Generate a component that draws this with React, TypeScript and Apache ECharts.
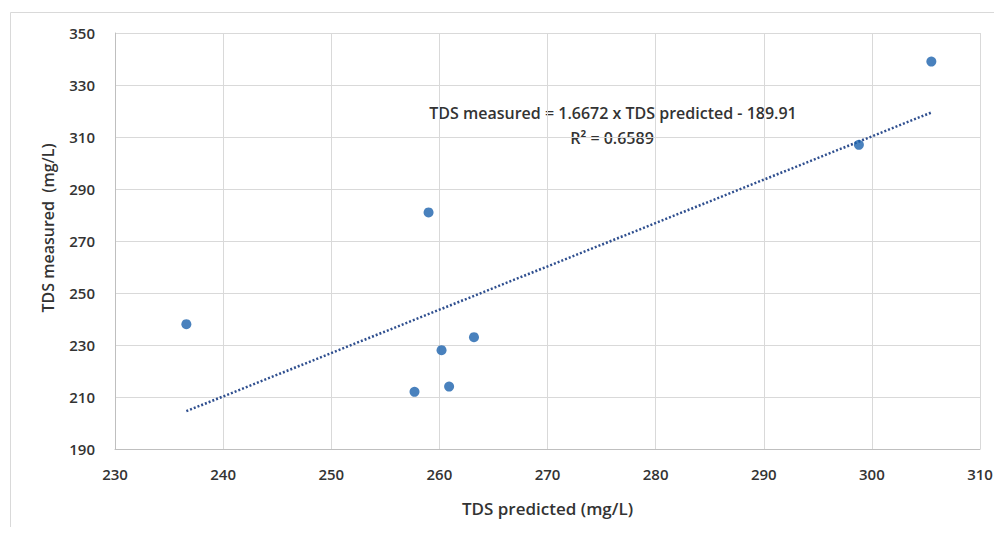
import React, { useEffect, useRef } from "react";
import * as echarts from "echarts";

const predicted = [236.6, 257.7, 260.2, 260.9, 263.2, 259.0, 298.8, 305.5];
const measured = [238, 212, 228, 214, 233, 281, 307, 339];
const slope = 1.6672;
const intercept = -189.91;
const trendX = [236.6, 305.5];
const equationText = "TDS measured = 1.6672 x TDS predicted - 189.91";
const r2Text = "R² = 0.6589";
const xTitle = "TDS predicted (mg/L)";
const yTitle = "TDS measured  (mg/L)";

export default function App() {
  const ref = useRef<HTMLDivElement>(null);
  useEffect(() => {
    if (!ref.current) return;
    const chart = echarts.init(ref.current, undefined, { renderer: "svg" });
    const font = "'Open Sans', 'Noto Sans', sans-serif";
    const labelStyle = { color: "#333333", fontSize: 15, fontFamily: font, fontWeight: 600 as any };
    chart.setOption({
      animation: false,
      backgroundColor: "#fff",
      grid: { left: 115, right: 22, top: 33, bottom: 86, containLabel: false },
      xAxis: {
        type: "value",
        min: 230,
        max: 310,
        interval: 10,
        name: xTitle,
        nameLocation: "middle",
        nameGap: 51,
        nameTextStyle: { ...labelStyle, fontSize: 17 },
        axisLine: { show: true, lineStyle: { color: "#bfbfbf", width: 1 } },
        axisTick: { show: false },
        axisLabel: { ...labelStyle, margin: 17 },
        splitLine: { show: true, lineStyle: { color: "#d9d9d9", width: 1 } },
      },
      yAxis: {
        type: "value",
        min: 190,
        max: 350,
        interval: 20,
        axisLine: { show: true, lineStyle: { color: "#bfbfbf", width: 1 } },
        axisTick: { show: false },
        axisLabel: { ...labelStyle, margin: 20 },
        splitLine: { show: true, lineStyle: { color: "#d9d9d9", width: 1 } },
      },
      graphic: [
        {
          type: "rect",
          shape: { x: 10.5, y: 12.5, width: 985, height: 518 },
          style: { fill: "none", stroke: "#d9d9d9", lineWidth: 1 },
          silent: true,
          z: -10,
        },
        {
          type: "text",
          x: 48,
          y: 228,
          rotation: Math.PI / 2,
          style: {
            text: yTitle,
            fill: "#333333",
            font: `600 16px ${font}`,
            textAlign: "center",
            textVerticalAlign: "middle",
          },
        },
        {
          type: "text",
          x: 613,
          y: 113,
          style: {
            text: equationText,
            fill: "#333333",
            font: `600 16px ${font}`,
            textAlign: "center",
            textVerticalAlign: "middle",
          },
        },
        {
          type: "text",
          x: 612,
          y: 138,
          style: {
            text: r2Text,
            fill: "#333333",
            font: `600 16px ${font}`,
            textAlign: "center",
            textVerticalAlign: "middle",
          },
        },
      ],
      series: [
        {
          type: "line",
          data: trendX.map((x) => [x, slope * x + intercept]),
          symbol: "none",
          lineStyle: { color: "#2F4F8F", width: 2.5, type: [2, 2] },
          z: 2,
        },
        {
          type: "scatter",
          data: predicted.map((x, i) => [x, measured[i]]),
          symbolSize: 10,
          itemStyle: { color: "#1C62AD" },
          z: 3,
        },
      ],
    });
    return () => chart.dispose();
  }, []);
  return <div ref={ref} style={{ width: 1002, height: 535, margin: -8 }} />;
}
